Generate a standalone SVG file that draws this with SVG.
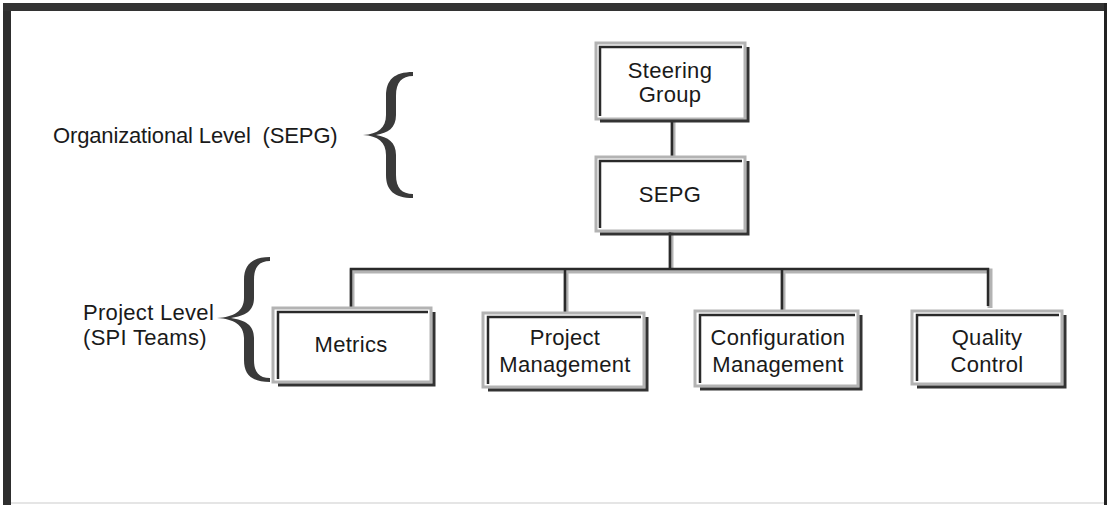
<svg xmlns="http://www.w3.org/2000/svg" width="1114" height="505" viewBox="0 0 1114 505">
<style>
.lbl{font-family:"Liberation Sans",Arial,sans-serif;font-size:22px;letter-spacing:0.3px;fill:#1a1a1a;}
.box{fill:#fff;stroke:#b3b3b3;stroke-width:3;}
.inset{fill:none;stroke:#2a2a2a;stroke-width:2.5;}
.shadow{fill:none;stroke:#333;stroke-width:3;}
.conG{fill:none;stroke:#b3b3b3;stroke-width:5;}
.conD{fill:none;stroke:#2a2a2a;stroke-width:2.5;}
.brace{fill:#3a3a3a;}
</style>
<rect width="1114" height="505" fill="#fff"/>
<g id="frame">
<rect x="3" y="3" width="8" height="502" fill="#2e2e2e"/>
<rect x="3" y="3" width="1104" height="8" fill="#333"/>
<rect x="1104" y="3" width="3" height="502" fill="#222"/>
<line x1="11" y1="503" x2="1104" y2="503" stroke="#ddd" stroke-width="1.5"/>
</g>
<g id="connectors">
<line class="conG" x1="673" y1="121" x2="673" y2="157"/>
<line class="conD" x1="672" y1="121" x2="672" y2="157"/>
<line class="conG" x1="671" y1="232" x2="671" y2="270"/>
<line class="conD" x1="670" y1="232" x2="670" y2="269"/>
<path class="conG" d="M352,308 L352,271 L990,271 L990,308"/>
<path class="conD" d="M351,308 L351,269 L988,269 L988,306"/>
<line class="conG" x1="566" y1="271" x2="566" y2="313"/>
<line class="conD" x1="565" y1="269" x2="565" y2="313"/>
<line class="conG" x1="783" y1="271" x2="783" y2="311"/>
<line class="conD" x1="782" y1="269" x2="782" y2="311"/>
</g>
<g id="brace-org">
<path class="brace" d="M413,72 C394,72 386,80 386,96 L386,115 C386,128 378,134 363,135 C378,136 386,142 386,155 L386,175 C386,190 394,198 413,198 L413,194 C402,194 396,188 396,175 L396,155 C396,142 388,137 376,135 C388,133 396,128 396,115 L396,96 C396,82 402,76 413,76 Z"/>
<text class="lbl" x="53" y="143" xml:space="preserve" textLength="285" lengthAdjust="spacing">Organizational Level  (SEPG)</text>
</g>
<g id="brace-project">
<path class="brace" d="M270,257 C252,257 244,265 244,280 L244,298 C244,311 234,317 217,318 C234,319 244,325 244,338 L244,360 C244,375 252,382 270,382 L270,378 C259,378 254,372 254,360 L254,338 C254,325 245,320 231,318 C245,316 254,311 254,298 L254,280 C254,267 259,261 270,261 Z"/>
<text class="lbl" x="83" y="320">Project Level</text>
<text class="lbl" x="83" y="345">(SPI Teams)</text>
</g>
<g id="steering">
<rect class="box" x="596" y="43" width="149" height="76"/>
<path class="inset" d="M600,116 L600,47 L742,47"/>
<path class="shadow" d="M748,47 L748,121 L600,121"/>
<text class="lbl" x="670" y="78" text-anchor="middle">Steering</text>
<text class="lbl" x="670" y="102" text-anchor="middle">Group</text>
</g>
<g id="sepg">
<rect class="box" x="596" y="157" width="149" height="74"/>
<path class="inset" d="M600,228 L600,161 L742,161"/>
<path class="shadow" d="M748,161 L748,234 L600,234"/>
<text class="lbl" x="670" y="202" text-anchor="middle">SEPG</text>
</g>
<g id="metrics">
<rect class="box" x="273" y="308" width="158" height="74"/>
<path class="inset" d="M278,379 L278,312 L428,312"/>
<path class="shadow" d="M434,312 L434,385 L278,385"/>
<text class="lbl" x="351" y="352" text-anchor="middle">Metrics</text>
</g>
<g id="projmgmt">
<rect class="box" x="483" y="313" width="161" height="74"/>
<path class="inset" d="M488,384 L488,317 L641,317"/>
<path class="shadow" d="M647,317 L647,390 L488,390"/>
<text class="lbl" x="565" y="345" text-anchor="middle">Project</text>
<text class="lbl" x="565" y="372" text-anchor="middle">Management</text>
</g>
<g id="configmgmt">
<rect class="box" x="695" y="311" width="163" height="75"/>
<path class="inset" d="M700,383 L700,315 L855,315"/>
<path class="shadow" d="M861,315 L861,389 L700,389"/>
<text class="lbl" x="778" y="345" text-anchor="middle">Configuration</text>
<text class="lbl" x="778" y="372" text-anchor="middle">Management</text>
</g>
<g id="quality">
<rect class="box" x="912" y="311" width="150" height="73"/>
<path class="inset" d="M917,381 L917,315 L1059,315"/>
<path class="shadow" d="M1065,315 L1065,387 L917,387"/>
<text class="lbl" x="987" y="345" text-anchor="middle">Quality</text>
<text class="lbl" x="987" y="372" text-anchor="middle">Control</text>
</g>
</svg>
